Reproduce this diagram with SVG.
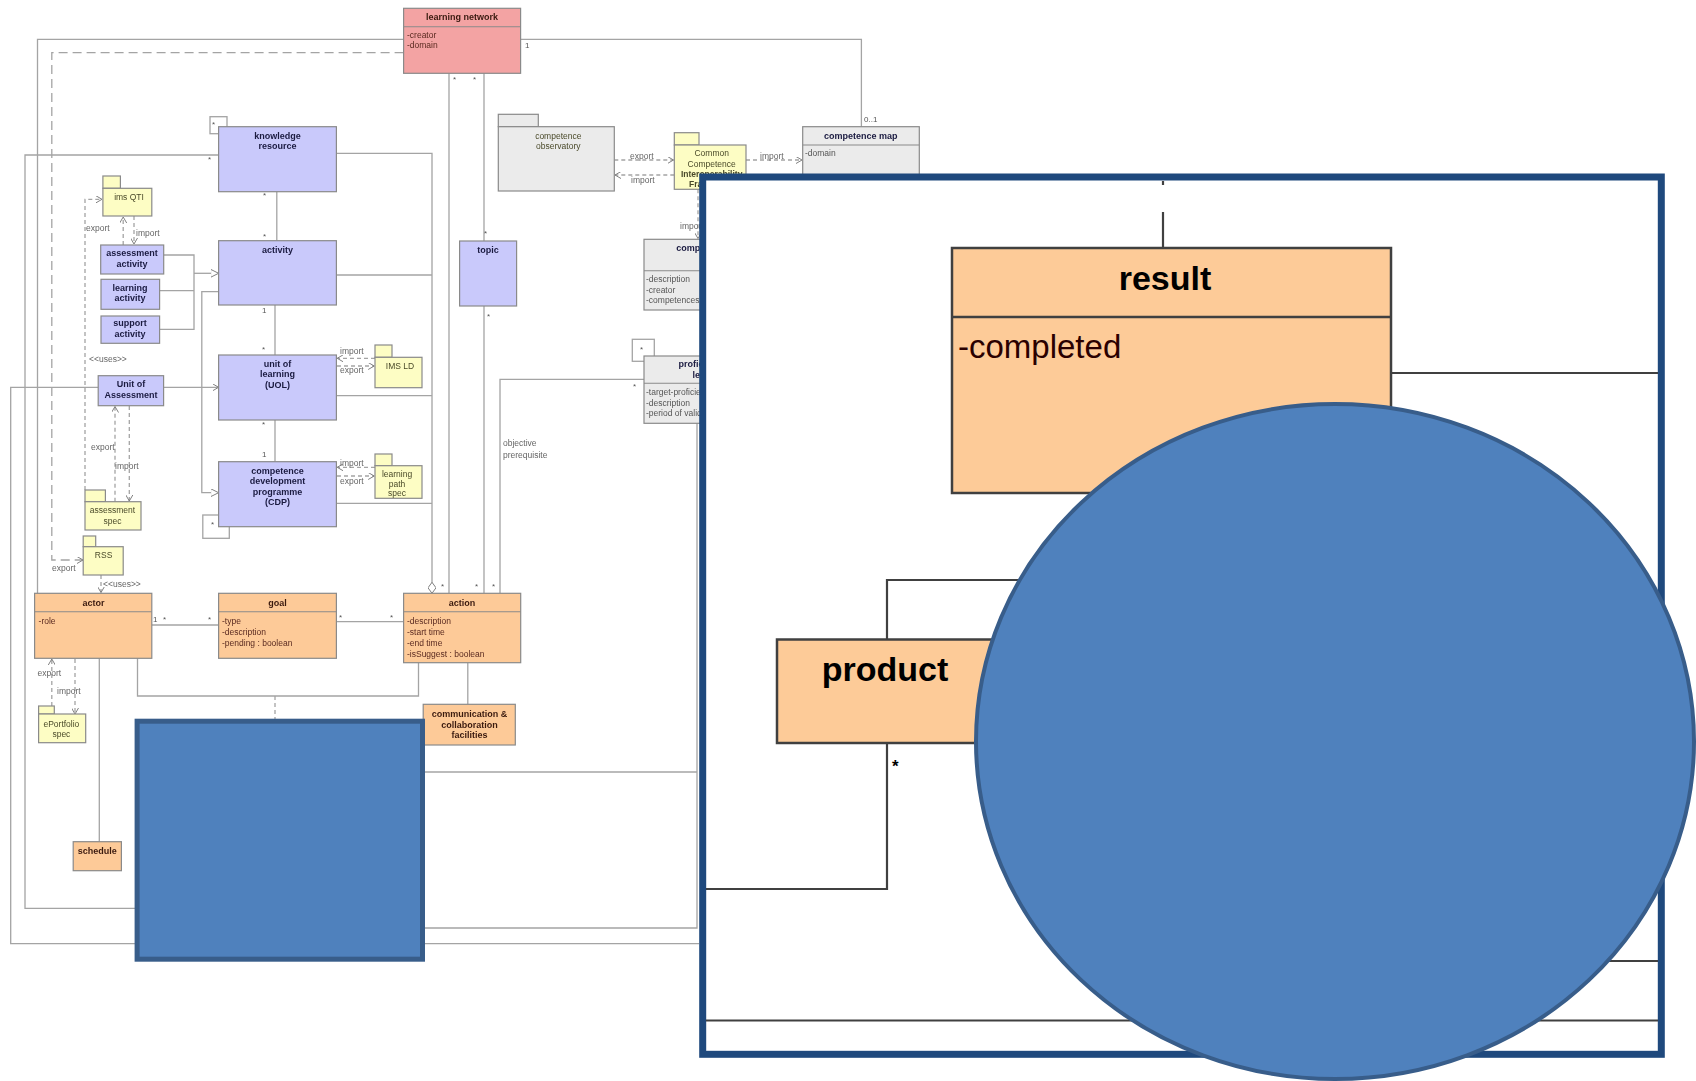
<svg xmlns="http://www.w3.org/2000/svg" width="1696" height="1081" viewBox="0 0 1696 1081">
  <defs>
    <style>
      .c{fill:none;stroke:#a4a4a4;stroke-width:1.3}
      .d{stroke-dasharray:4 3}
      .dl{stroke-dasharray:9 5}
      .box{stroke:#8a8a8a;stroke-width:1.2}
      .lav{fill:#c9c9fb}
      .peach{fill:#fdca98}
      .pink{fill:#f3a3a3}
      .grey{fill:#ebebeb}
      .yel{fill:#fdfdc4}
      .div{stroke:#8a8a8a;stroke-width:1.1}
      text{font-family:"Liberation Sans",Arial,sans-serif}
      .t{font-size:9px;font-weight:bold;text-anchor:middle;fill:#1a1a40}
      .tp{font-size:9px;font-weight:bold;text-anchor:middle;fill:#3a1a10}
      .a{font-size:8.5px;fill:#5a2a20}
      .ag{font-size:8.5px;fill:#555}
      .l{font-size:8.5px;fill:#666}
      .pk{font-size:8.5px;text-anchor:middle;fill:#4a4a2a}
      .m{font-size:8px;fill:#555}
      .big{stroke:#404040;stroke-width:2.2;fill:none}
      .res{fill:#fdcb98;stroke:#404040;stroke-width:2.5}
    </style>
    <marker id="open" markerWidth="7" markerHeight="7" refX="6" refY="3.5" orient="auto" markerUnits="userSpaceOnUse">
      <path d="M0,0 L6,3.5 L0,7" fill="none" stroke="#808080" stroke-width="1"/>
    </marker>
    <marker id="tri" markerWidth="9" markerHeight="9" refX="8" refY="4" orient="auto" markerUnits="userSpaceOnUse">
      <path d="M0,0 L8,4 L0,8 z" fill="#fff" stroke="#808080" stroke-width="1"/>
    </marker>
    <marker id="dia" markerWidth="12" markerHeight="8" refX="11" refY="4" orient="auto" markerUnits="userSpaceOnUse">
      <path d="M0,4 L5.5,0 L11,4 L5.5,8 z" fill="#fff" stroke="#808080" stroke-width="1"/>
    </marker>
    <filter id="soft" x="-2%" y="-2%" width="104%" height="104%">
      <feGaussianBlur stdDeviation="0.6"/>
    </filter>
  </defs>

  <rect width="1696" height="1081" fill="#ffffff"/>

  <!-- class model in the background -->
  <g id="model" filter="url(#soft)">
    <g id="connectors">
      <path class="c" d="M403.6,39.3 H37.5 V593.3"/>
      <path class="c dl" d="M403.6,52.7 H51.8 V560 H83" marker-end="url(#open)"/>
      <path class="c" d="M520.7,39.3 H861.4 V126.7"/>
      <path class="c" d="M449,73.3 V593.3"/>
      <path class="c" d="M484,73.3 V241"/>
      <path class="c" d="M484,306 V593.3"/>
      <path class="c" d="M336.4,153.3 H432 V593.3" marker-end="url(#dia)"/>
      <path class="c" d="M336.4,275 H432"/>
      <path class="c" d="M336.4,395.7 H432"/>
      <path class="c" d="M336.4,503.3 H432"/>
      <path class="c" d="M276.8,191.7 V240.7"/>
      <path class="c" d="M275,305 V355"/>
      <path class="c" d="M275,420 V461.7"/>
      <path class="c" d="M218.6,155 H25 V908.3 H137"/>
      <path class="c" d="M98.2,387.3 H10.7 V943.6 H699"/>
      <path class="c" d="M163.6,387.3 H218.6" marker-end="url(#open)"/>
      <path class="c" d="M163.6,255 H194 V329.3 H159.6"/>
      <path class="c" d="M159.6,290.7 H194"/>
      <path class="c" d="M194,273.3 H218.6" marker-end="url(#tri)"/>
      <path class="c" d="M218.6,291.7 H201.8 V492.7 H218.6" marker-end="url(#tri)"/>
      <path class="c" d="M500,593.3 V379.3 H644"/>
      <path class="c" d="M151.8,625 H218.6"/>
      <path class="c" d="M336.4,621.7 H403.6"/>
      <path class="c" d="M137.5,658.3 V696 H418.5 V662.7"/>
      <path class="c d" d="M275,696 V721"/>
      <path class="c" d="M467.8,662.7 V704.3"/>
      <path class="c" d="M99.3,658.3 V841.7"/>
      <path class="c d" d="M51.8,706 V659" marker-end="url(#open)"/>
      <path class="c d" d="M75,659 V714" marker-end="url(#open)"/>
      <path class="c" d="M423,772 H697"/>
      <path class="c" d="M697,423 V928 H423"/>
      <path class="c d" d="M123.2,245 V217" marker-end="url(#open)"/>
      <path class="c d" d="M134,216 V244" marker-end="url(#open)"/>
      <path class="c d" d="M85,490 V199.3 H102" marker-end="url(#open)"/>
      <path class="c d" d="M115,501.7 V406.5" marker-end="url(#open)"/>
      <path class="c d" d="M129.3,406 V501" marker-end="url(#open)"/>
      <path class="c d" d="M101,575 V592.5" marker-end="url(#open)"/>
      <path class="c d" d="M375,358.3 H337.2" marker-end="url(#open)"/>
      <path class="c d" d="M337,366 H374.2" marker-end="url(#open)"/>
      <path class="c d" d="M375,467.3 H337.2" marker-end="url(#open)"/>
      <path class="c d" d="M337,476 H374.2" marker-end="url(#open)"/>
      <path class="c d" d="M614.3,160 H673.5" marker-end="url(#open)"/>
      <path class="c d" d="M674.3,175 H615" marker-end="url(#open)"/>
      <path class="c d" d="M746,160 H802" marker-end="url(#open)"/>
      <path class="c d" d="M698,189.3 V238.5" marker-end="url(#open)"/>
      <rect class="c" x="210" y="116.7" width="17" height="17"/>
      <rect class="c" x="202.8" y="515" width="26.5" height="23.3"/>
      <rect class="c" x="632.3" y="339.3" width="22" height="22"/>
    </g>

    <!-- connector labels -->
    <g id="connector-labels">
      <text class="l" x="52" y="571">export</text>
      <text class="l" x="86" y="230.5">export</text>
      <text class="l" x="136" y="235.5">import</text>
      <text class="l" x="89" y="362" font-size="7.5">&lt;&lt;uses&gt;&gt;</text>
      <text class="l" x="91" y="449.5">export</text>
      <text class="l" x="115" y="469">import</text>
      <text class="l" x="103" y="587" font-size="7.5">&lt;&lt;uses&gt;&gt;</text>
      <text class="l" x="37.5" y="675.5">export</text>
      <text class="l" x="57" y="694">import</text>
      <text class="l" x="340" y="354">import</text>
      <text class="l" x="340" y="373">export</text>
      <text class="l" x="340" y="465.5">import</text>
      <text class="l" x="340" y="484">export</text>
      <text class="l" x="630" y="159">export</text>
      <text class="l" x="631" y="183">import</text>
      <text class="l" x="760" y="159">import</text>
      <text class="l" x="680" y="228.5">import</text>
      <text class="l" x="503" y="446">objective</text>
      <text class="l" x="503" y="458">prerequisite</text>
      <text class="m" x="525" y="48">1</text>
      <text class="m" x="864" y="122">0..1</text>
      <text class="m" x="453" y="82">*</text>
      <text class="m" x="473" y="82">*</text>
      <text class="m" x="212" y="127">*</text>
      <text class="m" x="208" y="162">*</text>
      <text class="m" x="263" y="198">*</text>
      <text class="m" x="263" y="239">*</text>
      <text class="m" x="262" y="313">1</text>
      <text class="m" x="262" y="352">*</text>
      <text class="m" x="262" y="427">*</text>
      <text class="m" x="262" y="457">1</text>
      <text class="m" x="484" y="236">*</text>
      <text class="m" x="487" y="319">*</text>
      <text class="m" x="211" y="527">*</text>
      <text class="m" x="640" y="352">*</text>
      <text class="m" x="633" y="389">*</text>
      <text class="m" x="153" y="622">1</text>
      <text class="m" x="163" y="622">*</text>
      <text class="m" x="208" y="622">*</text>
      <text class="m" x="339" y="620">*</text>
      <text class="m" x="390" y="620">*</text>
      <text class="m" x="441" y="589">*</text>
      <text class="m" x="475" y="589">*</text>
      <text class="m" x="492" y="589">*</text>
    </g>

    <g id="learning-network">
      <rect class="box pink" x="403.6" y="8.3" width="117" height="65"/>
      <line class="div" x1="403.6" y1="26.7" x2="520.6" y2="26.7"/>
      <text class="tp" x="462" y="20">learning network</text>
      <text class="a" x="407" y="38">-creator</text>
      <text class="a" x="407" y="48">-domain</text>
    </g>
    <g id="knowledge-resource">
      <rect class="box lav" x="218.6" y="126.7" width="117.8" height="65"/>
      <text class="t" x="277.5" y="138.5">knowledge</text>
      <text class="t" x="277.5" y="149">resource</text>
    </g>
    <g id="activity">
      <rect class="box lav" x="218.6" y="240.7" width="117.8" height="64.3"/>
      <text class="t" x="277.5" y="253">activity</text>
    </g>
    <g id="topic">
      <rect class="box lav" x="459.6" y="241" width="57" height="65"/>
      <text class="t" x="488" y="253">topic</text>
    </g>
    <g id="unit-of-learning">
      <rect class="box lav" x="218.6" y="355" width="117.8" height="65"/>
      <text class="t" x="277.5" y="366.5">unit of</text>
      <text class="t" x="277.5" y="377">learning</text>
      <text class="t" x="277.5" y="387.5">(UOL)</text>
    </g>
    <g id="cdp">
      <rect class="box lav" x="218.6" y="461.7" width="117.8" height="65"/>
      <text class="t" x="277.5" y="473.5">competence</text>
      <text class="t" x="277.5" y="484">development</text>
      <text class="t" x="277.5" y="494.5">programme</text>
      <text class="t" x="277.5" y="505">(CDP)</text>
    </g>
    <g id="assessment-activity">
      <rect class="box lav" x="100.7" y="245" width="63" height="29"/>
      <text class="t" x="132" y="256">assessment</text>
      <text class="t" x="132" y="266.5">activity</text>
    </g>
    <g id="learning-activity">
      <rect class="box lav" x="101" y="279.3" width="58.6" height="30"/>
      <text class="t" x="130" y="290.5">learning</text>
      <text class="t" x="130" y="301">activity</text>
    </g>
    <g id="support-activity">
      <rect class="box lav" x="101" y="316" width="58.6" height="27.3"/>
      <text class="t" x="130" y="326">support</text>
      <text class="t" x="130" y="336.5">activity</text>
    </g>
    <g id="unit-of-assessment">
      <rect class="box lav" x="98.2" y="375.7" width="65.4" height="30"/>
      <text class="t" x="131" y="387">Unit of</text>
      <text class="t" x="131" y="398">Assessment</text>
    </g>
    <g id="ims-qti">
      <rect class="box yel" x="102.9" y="176" width="17.5" height="12.3"/>
      <rect class="box yel" x="102.9" y="188.3" width="48.9" height="27.7"/>
      <text class="pk" x="129" y="200">ims QTI</text>
    </g>
    <g id="ims-ld">
      <rect class="box yel" x="375" y="345" width="17" height="12.3"/>
      <rect class="box yel" x="375" y="357.3" width="47" height="30.4"/>
      <text class="pk" x="400" y="369">IMS LD</text>
    </g>
    <g id="learning-path-spec">
      <rect class="box yel" x="375" y="454" width="17" height="11.7"/>
      <rect class="box yel" x="375" y="465.7" width="47" height="32.6"/>
      <text class="pk" x="397" y="476.5" font-size="8">learning</text>
      <text class="pk" x="397" y="486.5" font-size="8">path</text>
      <text class="pk" x="397" y="496" font-size="8">spec</text>
    </g>
    <g id="assessment-spec">
      <rect class="box yel" x="85" y="490" width="20.4" height="11.7"/>
      <rect class="box yel" x="85" y="501.7" width="56" height="28.3"/>
      <text class="pk" x="112.5" y="513">assessment</text>
      <text class="pk" x="112.5" y="523.5">spec</text>
    </g>
    <g id="rss">
      <rect class="box yel" x="83.2" y="536" width="12.5" height="10.7"/>
      <rect class="box yel" x="83.2" y="546.7" width="40" height="28.3"/>
      <text class="pk" x="103.6" y="558">RSS</text>
    </g>
    <g id="eportfolio-spec">
      <rect class="box yel" x="38.6" y="706" width="15.7" height="8"/>
      <rect class="box yel" x="38.6" y="714" width="47.1" height="28.7"/>
      <text class="pk" x="61.4" y="727">ePortfolio</text>
      <text class="pk" x="61.4" y="737">spec</text>
    </g>
    <g id="actor">
      <rect class="box peach" x="34.6" y="593.3" width="117.2" height="65"/>
      <line class="div" x1="34.6" y1="611.7" x2="151.8" y2="611.7"/>
      <text class="tp" x="93.6" y="605.5">actor</text>
      <text class="a" x="38.6" y="623.5">-role</text>
    </g>
    <g id="goal">
      <rect class="box peach" x="218.6" y="593.3" width="117.8" height="65"/>
      <line class="div" x1="218.6" y1="611.7" x2="336.4" y2="611.7"/>
      <text class="tp" x="277.5" y="605.5">goal</text>
      <text class="a" x="222" y="623.5">-type</text>
      <text class="a" x="222" y="634.5">-description</text>
      <text class="a" x="222" y="645.5">-pending : boolean</text>
    </g>
    <g id="action">
      <rect class="box peach" x="403.6" y="593.3" width="117.1" height="69.4"/>
      <line class="div" x1="403.6" y1="611.7" x2="520.7" y2="611.7"/>
      <text class="tp" x="462" y="605.5">action</text>
      <text class="a" x="407" y="623.5">-description</text>
      <text class="a" x="407" y="634.5">-start time</text>
      <text class="a" x="407" y="645.5">-end time</text>
      <text class="a" x="407" y="656.5">-isSuggest : boolean</text>
    </g>
    <g id="communication-facilities">
      <rect class="box peach" x="423.2" y="704.3" width="92.1" height="40.7"/>
      <text class="tp" x="469.6" y="717" font-size="8.5">communication &amp;</text>
      <text class="tp" x="469.6" y="727.5" font-size="8.5">collaboration</text>
      <text class="tp" x="469.6" y="738" font-size="8.5">facilities</text>
    </g>
    <g id="schedule">
      <rect class="box peach" x="73.2" y="841.7" width="48.2" height="29"/>
      <text class="tp" x="97.3" y="854" font-size="8.5">schedule</text>
    </g>
    <g id="competence-observatory">
      <rect class="box grey" x="498.3" y="114.3" width="40" height="12.4"/>
      <rect class="box grey" x="498.3" y="126.7" width="116" height="64.3"/>
      <text class="pk" x="558.3" y="138.5" fill="#555">competence</text>
      <text class="pk" x="558.3" y="148.5" fill="#555">observatory</text>
    </g>
    <g id="ccif">
      <rect class="box yel" x="674.3" y="132.7" width="24.7" height="12.3"/>
      <rect class="box yel" x="674.3" y="145" width="71.7" height="44.3"/>
      <text class="pk" x="711.7" y="156" font-size="8">Common</text>
      <text class="pk" x="711.7" y="166.5" font-size="8">Competence</text>
      <text class="pk" x="711.7" y="176.5" font-size="8" font-weight="bold">Interoperability</text>
      <text class="pk" x="711.7" y="187" font-size="8" font-weight="bold">Framework</text>
    </g>
    <g id="competence-map">
      <rect class="box grey" x="802.7" y="126.7" width="116.6" height="60"/>
      <line class="div" x1="802.7" y1="145" x2="919.3" y2="145"/>
      <text class="t" x="860.7" y="138.5" fill="#222">competence map</text>
      <text class="ag" x="805" y="155.5">-domain</text>
    </g>
    <g id="competence">
      <rect class="box grey" x="644" y="239.3" width="117" height="70.7"/>
      <line class="div" x1="644" y1="270.7" x2="761" y2="270.7"/>
      <text class="t" x="702.5" y="250.5" fill="#222">competence</text>
      <text class="ag" x="646" y="282">-description</text>
      <text class="ag" x="646" y="292.5">-creator</text>
      <text class="ag" x="646" y="303">-competences</text>
    </g>
    <g id="proficiency-level">
      <rect class="box grey" x="644" y="356" width="117" height="67.3"/>
      <line class="div" x1="644" y1="383.3" x2="761" y2="383.3"/>
      <text class="t" x="702.5" y="367" fill="#222">proficiency</text>
      <text class="t" x="702.5" y="377.5" fill="#222">level</text>
      <text class="ag" x="646" y="395">-target-proficiency</text>
      <text class="ag" x="646" y="405.5">-description</text>
      <text class="ag" x="646" y="416">-period of validity</text>
    </g>
  </g>

  <!-- solid blue block over the lower model -->
  <rect id="block" x="137.1" y="721.2" width="285.4" height="238" fill="#4f81bd" stroke="#385d8a" stroke-width="5"/>

  <!-- enlarged panel: result / product -->
  <g id="panel">
    <rect x="702.7" y="177" width="958.6" height="877.3" fill="#ffffff" stroke="#1f497d" stroke-width="7"/>
    <g id="panel-connectors">
      <path class="big" d="M1163,181 V185"/>
      <path class="big" d="M1163,212 V248"/>
      <path class="big" d="M1391,373 H1658"/>
      <path class="big" d="M887,639.5 V580 H1060"/>
      <path class="big" d="M887,743 V889 H706"/>
      <path class="big" d="M1480,961 H1658"/>
      <path class="big" d="M706,1020.5 H1658"/>
    </g>
    <g id="result">
      <rect class="res" x="952" y="248" width="439" height="245"/>
      <line x1="952" y1="317" x2="1391" y2="317" stroke="#404040" stroke-width="2.5"/>
      <text x="1165" y="290" font-size="34" font-weight="bold" text-anchor="middle" fill="#000">result</text>
      <text x="958" y="358" font-size="33" fill="#2a0000">-completed</text>
    </g>
    <g id="product">
      <rect class="res" x="777" y="639.5" width="250" height="103.5"/>
      <text x="885" y="681" font-size="34" font-weight="bold" text-anchor="middle" fill="#000">product</text>
      <text x="892" y="772" font-size="17" font-weight="bold" fill="#000">*</text>
    </g>
    <ellipse id="disc" cx="1335" cy="741.5" rx="359" ry="337.5" fill="#4f81bd" stroke="#385d8a" stroke-width="4"/>
  </g>
</svg>
